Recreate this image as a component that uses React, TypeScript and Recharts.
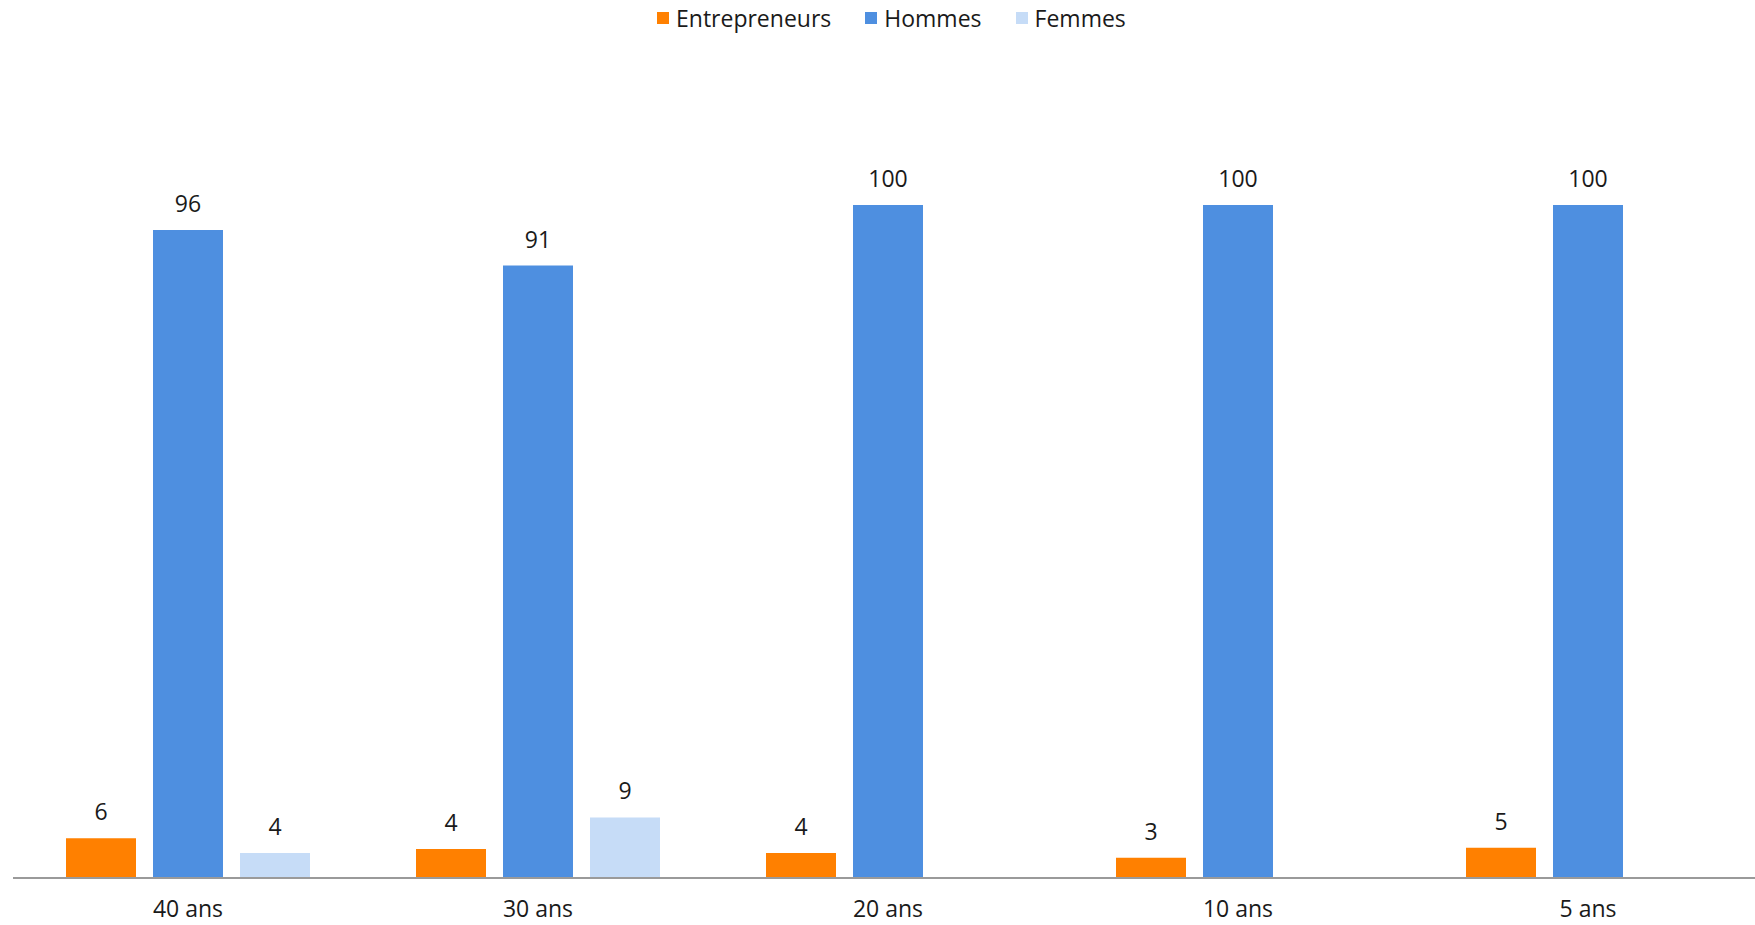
import { Bar, BarChart, Legend, XAxis, YAxis } from "recharts"

const categories = ["40 ans", "30 ans", "20 ans", "10 ans", "5 ans"]
const entrepreneurs = [5.9, 4.3, 3.7, 3.0, 4.5]
const hommes = [96.3, 91, 100, 100, 100]
const femmes: (number | null)[] = [3.7, 9.0, null, null, null]

const SERIES = [
  { key: "entrepreneurs", label: "Entrepreneurs", color: "#FF8000" },
  { key: "hommes", label: "Hommes", color: "#4E8FE0" },
  { key: "femmes", label: "Femmes", color: "#C6DCF7" },
]

const data = categories.map((c, i) => ({
  cat: c,
  entrepreneurs: entrepreneurs[i],
  hommes: hommes[i],
  femmes: femmes[i],
}))

const FONT = "'Open Sans', sans-serif"

function LegendBox() {
  return (
    <div style={{ display: "flex", alignItems: "center", height: 36, fontFamily: FONT, fontSize: 23, color: "#1a1a1a" }}>
      {SERIES.map((s) => (
        <div key={s.key} style={{ display: "flex", alignItems: "center", marginRight: 34 }}>
          <span style={{ width: 12, height: 12, background: s.color, marginRight: 7, display: "inline-block" }} />
          <span>{s.label}</span>
        </div>
      ))}
    </div>
  )
}

// labels show the rounded value, like the original
function ValueLabel(props: any) {
  const { x, y, width, value } = props
  if (value === null || value === undefined) return null
  return (
    <text
      x={x + width / 2}
      y={y - 18}
      textAnchor="middle"
      fontFamily={FONT}
      fontSize={23}
      fill="#1a1a1a"
    >
      {Math.round(value)}
    </text>
  )
}

export default function App() {
  return (
    <div style={{ position: "fixed", left: 0, top: 0, width: 1755, height: 925, overflow: "hidden", background: "#fff" }}>
      <BarChart
        width={1763}
        height={925}
        data={data}
        margin={{ top: 169, right: 0, left: 13, bottom: 0 }}
        barCategoryGap="15%"
        barGap={17}
      >
        <XAxis
          dataKey="cat"
          height={47}
          tickLine={false}
          tickMargin={17}
          axisLine={{ stroke: "#9a9a9a", strokeWidth: 2 }}
          tick={{ fill: "#1a1a1a", fontSize: 23, fontFamily: FONT }}
        />
        <YAxis hide domain={[0, 100]} />
        <Legend
          verticalAlign="top"
          content={<LegendBox />}
          wrapperStyle={{ top: 0, left: 657, width: 540, height: 36 }}
        />
        {SERIES.map((s) => (
          <Bar
            key={s.key}
            dataKey={s.key}
            name={s.label}
            fill={s.color}
            barSize={70}
            isAnimationActive={false}
            label={<ValueLabel />}
          />
        ))}
      </BarChart>
    </div>
  )
}
